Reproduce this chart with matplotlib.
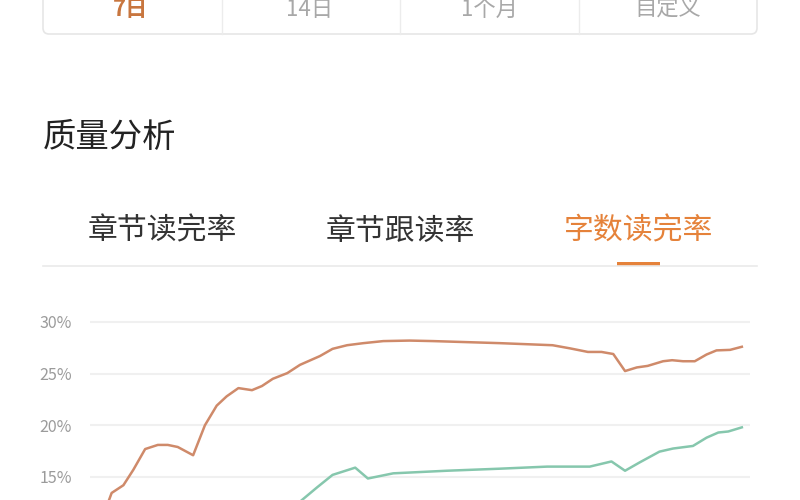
import matplotlib
matplotlib.use("Agg")
import matplotlib.pyplot as plt
from matplotlib.patches import FancyBboxPatch, Rectangle
from matplotlib.ticker import FuncFormatter

plt.rcParams['font.family'] = ['Noto Sans CJK SC', 'DejaVu Sans']

# range buttons and tabs
RANGES = ["7日", "14日", "1个月", "自定义"]
TABS = ["章节读完率", "章节跟读率", "字数读完率"]
TITLE = "质量分析"

# 字数读完率 (orange) - x in days, value in %
orange_x = [0.00, 0.04, 0.17, 0.28, 0.41, 0.55, 0.66, 0.77, 0.94, 1.07, 1.20, 1.31,
            1.44, 1.59, 1.70, 1.82, 1.98, 2.12, 2.34, 2.48, 2.64, 2.82, 3.04, 3.33,
            3.59, 3.96, 4.33, 4.91, 5.10, 5.30, 5.45, 5.58, 5.71, 5.84, 5.96, 6.13,
            6.23, 6.35, 6.48, 6.61, 6.72, 6.87, 7.00]
orange_y = [12.5, 13.45, 14.2, 15.7, 17.7, 18.1, 18.1, 17.9, 17.1, 20.0, 21.9, 22.8,
            23.6, 23.4, 23.8, 24.5, 25.05, 25.85, 26.7, 27.4, 27.75, 27.95, 28.15, 28.2,
            28.15, 28.05, 27.95, 27.75, 27.45, 27.1, 27.1, 26.9, 25.25, 25.6, 25.75, 26.2,
            26.3, 26.2, 26.2, 26.85, 27.25, 27.3, 27.6]

# second series (green)
green_x = [0.00, 1.02, 2.01, 2.31, 2.48, 2.73, 2.87, 3.15, 3.74, 4.33, 4.85, 5.32,
           5.56, 5.71, 5.87, 6.09, 6.24, 6.46, 6.61, 6.74, 6.85, 7.00]
green_y = [10.5, 10.8, 11.8, 14.0, 15.2, 15.9, 14.85, 15.35, 15.6, 15.8, 16.0, 16.0,
           16.5, 15.6, 16.4, 17.45, 17.75, 18.0, 18.8, 19.3, 19.4, 19.8]

y_ticks = [15, 20, 25, 30]

ORANGE_TXT = "#e5823a"
ORANGE_LINE = "#cf8a6a"
GREEN_LINE = "#86c7ad"
GRAY_TXT = "#9b9b9b"

fig = plt.figure(figsize=(8, 5), dpi=100)

# UI layer in pixel coordinates
ui = fig.add_axes([0, 0, 1, 1])
ui.set_xlim(0, 800)
ui.set_ylim(500, 0)
ui.axis("off")

box = FancyBboxPatch((43, -30), 714, 64, boxstyle="round,pad=0,rounding_size=6",
                     facecolor="white", edgecolor="#e6e6e6", linewidth=1.2)
ui.add_patch(box)
for xd in [222, 400, 579]:
    ui.plot([xd, xd], [0, 34], color="#ececec", linewidth=1)
for i, (label, xc) in enumerate(zip(RANGES, [131, 310, 489, 668])):
    if i == 0:
        ui.text(xc, 9, label, ha="center", va="center", fontsize=16,
                color="#c8763f", fontweight="bold")
    else:
        ui.text(xc, 9, label, ha="center", va="center", fontsize=16, color="#a8a8a8")

ui.text(43, 138, TITLE, ha="left", va="center", fontsize=24, color="#222222")

for i, (label, xc) in enumerate(zip(TABS, [162, 400, 639])):
    color = ORANGE_TXT if i == 2 else "#333333"
    ui.text(xc, 231, label, ha="center", va="center", fontsize=21.5, color=color)

ui.plot([43, 757], [265.5, 265.5], color="#eaeaea", linewidth=1.2)
ui.add_patch(Rectangle((617, 262), 43, 4, facecolor=ORANGE_TXT, edgecolor="none"))

# chart axes (extends past bottom of image)
ax = fig.add_axes([0.1125, -0.0572, 0.825, 0.4339])
ax.patch.set_alpha(0)
ax.set_xlim(-0.199, 7.09)
ax.set_ylim(10, 31)
for s in ax.spines.values():
    s.set_visible(False)
ax.set_yticks(y_ticks)
ax.yaxis.set_major_formatter(FuncFormatter(lambda v, p: f"{int(v)}%"))
ax.tick_params(axis="y", length=0, pad=13, labelsize=11.5, labelcolor=GRAY_TXT)
ax.set_xticks([])
ax.grid(axis="y", color="#f0f0f0", linewidth=1.5)
ax.set_axisbelow(True)

ax.plot(orange_x, orange_y, color=ORANGE_LINE, linewidth=1.8)
ax.plot(green_x, green_y, color=GREEN_LINE, linewidth=1.8)

fig.savefig("out.png", dpi=100)
